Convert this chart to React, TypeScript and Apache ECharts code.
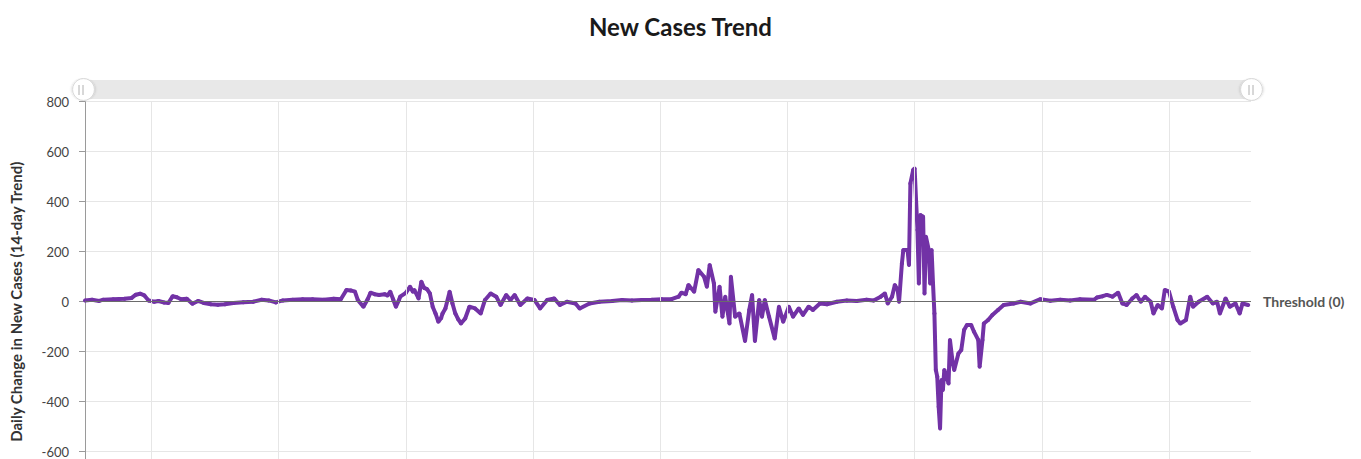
import React, { useEffect, useRef } from "react";
import * as echarts from "echarts";

// Day index since start of series (x) and daily change in new cases (14-day trend)
const days = [
  0, 5, 10, 13, 20, 28, 33, 36, 39, 42, 45, 49, 52, 56, 59, 62, 65, 68, 72, 76, 80, 84, 89, 94, 99, 105, 112, 119, 125, 130,
  135, 140, 147, 154, 161, 169, 176, 181, 185, 188, 191, 193, 197, 200, 202, 205, 208, 212, 214, 216, 218, 220, 222, 223, 227, 230,
  232, 233, 236, 238, 240, 242, 244, 246, 248, 250, 252, 253, 255, 258, 260, 262, 264, 266, 269, 272, 276, 280, 283, 287, 291, 294,
  298, 301, 304, 308, 313, 318, 322, 327, 332, 336, 341, 347, 350, 357, 364, 373, 380, 387, 394, 401, 408, 415, 420, 422, 425, 427,
  431, 434, 438, 440, 442, 445, 446, 449, 451, 453, 456, 457, 460, 463, 467, 470, 472, 474, 477, 479, 481, 484, 488, 491, 494, 498,
  501, 505, 508, 512, 515, 520, 525, 532, 539, 546, 553, 558, 563, 566, 568, 571, 573, 575, 576, 578, 579, 582, 583, 584, 586, 587,
  588, 589, 590, 591, 593, 594, 595, 597, 598, 599, 600, 601, 602, 603, 604, 605, 606, 607, 608, 611, 612, 614, 615, 618, 620, 622,
  624, 627, 629, 632, 633, 635, 636, 639, 642, 646, 650, 657, 662, 669, 676, 683, 690, 697, 704, 714, 716, 720, 723, 727, 731, 734,
  737, 741, 744, 747, 750, 754, 756, 759, 762, 764, 767, 770, 773, 775, 779, 782, 784, 788, 794, 798, 801, 803, 807, 810, 814, 817,
  819, 823,
];
const values = [
  5, 8, 3, 8, 10, 12, 15, 28, 32, 25, 5, 0, 3, -3, -5, 22, 18, 10, 12, -8, 3, -5, -10, -12, -10, -5, -2, 0, 8, 5,
  -3, 5, 8, 10, 10, 8, 12, 10, 47, 45, 40, 7, -20, 10, 36, 30, 27, 30, 25, 40, 10, -20, 5, 20, 35, 60,
  40, 47, 13, 80, 55, 50, 33, -20, -47, -80, -65, -47, -27, 40, -7, -47, -70, -87, -67, -20, -27, -47, 7, 33, 20, -13,
  27, 7, 27, -13, 13, 7, -27, 7, 13, -13, 0, -7, -27, -7, 0, 3, 7, 5, 7, 8, 10, 10, 20, 36, 30, 67,
  40, 127, 100, 60, 147, 73, -40, 60, -60, 20, -87, 100, -60, -47, -157, -33, 27, -157, 7, -60, 7, -60, -147, -20, -80, -20,
  -60, -27, -53, -20, -33, -7, -10, 0, 5, 3, 8, 5, 20, 33, -7, 20, 67, 47, 0, 153, 207, 207, 147, 473, 527, 533,
  407, 287, 73, 347, 340, 33, 260, 207, 73, 207, 73, -47, -273, -300, -420, -507, -313, -353, -273, -327, -153, -247, -273, -207, -193, -113,
  -93, -93, -120, -153, -260, -153, -87, -73, -53, -33, -13, -7, 0, -7, 10, 4, 8, 5, 10, 8, 17, 22, 27, 20, 36, -7,
  -13, 13, 27, 0, 20, 0, -47, -13, -27, 47, 40, -20, -73, -87, -73, 20, -20, 0, 20, -7, 0, -47, 13, -20, -7, -47,
  -7, -13,
];
const xMax = 825;
const gridDays = [47, 137, 227, 317, 407, 497, 587, 677, 767];
const threshold = 0;

export default function App() {
  const ref = useRef<HTMLDivElement>(null);

  useEffect(() => {
    if (!ref.current) return;
    document.body.style.margin = "0";
    document.body.style.overflow = "hidden";
    document.documentElement.style.overflow = "hidden";
    const chart = echarts.init(ref.current, undefined, { renderer: "svg" });
    const seriesData = days.map((d, i) => [d, values[i]]);
    const FONT = "Lato, 'Open Sans', sans-serif";

    chart.setOption({
      animation: false,
      backgroundColor: "#ffffff",
      title: {
        text: "New Cases Trend",
        left: "center",
        top: 9,
        textStyle: { fontFamily: FONT, fontSize: 24, fontWeight: "bold", color: "#1a1a1a" },
      },
      grid: { left: 81, right: 110, top: 101.7, bottom: 8.3, containLabel: false },
      xAxis: {
        type: "value",
        min: 0,
        max: xMax,
        axisLine: { show: false },
        axisTick: { show: false },
        axisLabel: { show: false },
        splitLine: { show: false },
      },
      yAxis: {
        type: "value",
        min: -800,
        max: 800,
        interval: 200,
        name: "Daily Change in New Cases (14-day Trend)",
        nameLocation: "middle",
        nameGap: 62,
        nameTextStyle: { fontFamily: FONT, fontSize: 15, fontWeight: "bold", color: "#333" },
        axisLine: { show: true, lineStyle: { color: "#9a9a9a", width: 1 } },
        axisTick: { show: true, length: 6, lineStyle: { color: "#9a9a9a" } },
        axisLabel: { margin: 16, fontFamily: FONT, fontSize: 13, color: "#444" },
        splitLine: { show: true, lineStyle: { color: "#e6e6e6", width: 1 } },
      },
      dataZoom: [
        {
          type: "slider",
          xAxisIndex: 0,
          start: 0,
          end: 100,
          top: 80,
          height: 19,
          left: 81,
          right: 110,
          showDetail: false,
          showDataShadow: false,
          brushSelect: false,
          backgroundColor: "#e8e8e8",
          fillerColor: "rgba(232,232,232,1)",
          borderColor: "transparent",
          borderRadius: 2,
          moveHandleSize: 0,
          handleIcon: "circle",
          handleSize: "115%",
          handleStyle: {
            color: "#ffffff",
            borderColor: "#d8d8d8",
            borderWidth: 1,
            shadowBlur: 3,
            shadowColor: "rgba(0,0,0,0.2)",
          },
          emphasis: { handleStyle: { color: "#ffffff", borderColor: "#d8d8d8" } },
        },
      ],
      graphic: [
        { type: "line", shape: { x1: 79, y1: 85, x2: 79, y2: 95 }, style: { stroke: "#b0b0b0", lineWidth: 1 }, z: 100 },
        { type: "line", shape: { x1: 83, y1: 85, x2: 83, y2: 95 }, style: { stroke: "#b0b0b0", lineWidth: 1 }, z: 100 },
        { type: "line", shape: { x1: 1249, y1: 85, x2: 1249, y2: 95 }, style: { stroke: "#b0b0b0", lineWidth: 1 }, z: 100 },
        { type: "line", shape: { x1: 1253, y1: 85, x2: 1253, y2: 95 }, style: { stroke: "#b0b0b0", lineWidth: 1 }, z: 100 },
      ],
      series: [
        {
          type: "line",
          name: "grid",
          data: [],
          silent: true,
          z: 1,
          markLine: {
            silent: true,
            symbol: "none",
            animation: false,
            label: { show: false },
            lineStyle: { color: "#e6e6e6", width: 1, type: "solid" },
            data: gridDays.map((d) => ({ xAxis: d })),
          },
        },
        {
          type: "line",
          name: "threshold",
          data: [],
          silent: true,
          z: 2,
          markLine: {
            silent: true,
            symbol: "none",
            animation: false,
            lineStyle: { color: "#6b6b6b", width: 1, type: "solid" },
            label: {
              show: true,
              position: "end",
              distance: 12,
              formatter: "Threshold (0)",
              fontFamily: FONT,
              fontSize: 14,
              fontWeight: "bold",
              color: "#555",
            },
            data: [{ yAxis: threshold }],
          },
        },
        {
          type: "line",
          name: "New Cases Trend",
          data: seriesData,
          z: 3,
          showSymbol: true,
          showAllSymbol: true,
          symbol: "circle",
          symbolSize: 4,
          itemStyle: { color: "#7232a6" },
          lineStyle: { color: "#7232a6", width: 4 },
        },
      ],
    });

    return () => chart.dispose();
  }, []);

  return <div ref={ref} style={{ width: 1361, height: 510 }} />;
}
